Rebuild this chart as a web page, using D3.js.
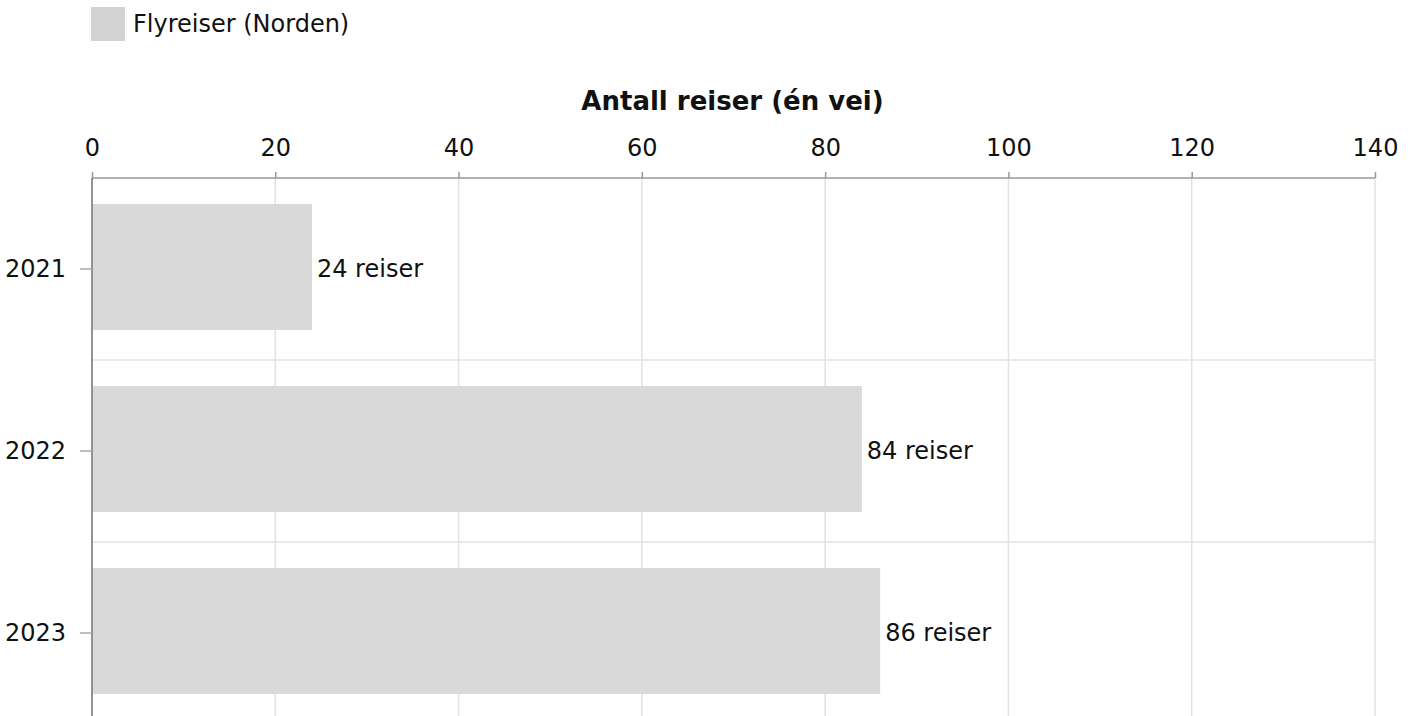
<!DOCTYPE html>
<html>
<head>
<meta charset="utf-8">
<script src="https://cdn.jsdelivr.net/npm/d3@7/dist/d3.min.js"></script>
<style>
html,body{margin:0;padding:0;background:#fff;}
svg{display:block;font-family:Verdana,"DejaVu Sans",sans-serif;}
</style>
</head>
<body>
<svg id="c" width="1416" height="716"></svg>
<script>
const years = ["2021", "2022", "2023"];
const trips = [24, 84, 86];
const xTicks = [0, 20, 40, 60, 80, 100, 120, 140];
const seriesName = "Flyreiser (Norden)";
const axisTitle = "Antall reiser (én vei)";
const valueSuffix = " reiser";

(function () {
const svg = d3.select("#c");
const mLeft = 92, mRight = 1375, mTop = 178, mBottom = 724;
const FS = 24;
const FF = "Verdana, 'DejaVu Sans', sans-serif";

const x = d3.scaleLinear().domain([0, 140]).range([mLeft, mRight]);
const yStep = d3.scaleBand().domain(years).range([mTop, mBottom]).padding(0);
const barOff = 0.143, barFrac = 0.692;

// vertical grid
svg.append("g").selectAll("line").data(xTicks).join("line")
  .attr("x1", d => x(d)).attr("x2", d => x(d))
  .attr("y1", mTop).attr("y2", 716)
  .attr("stroke", "#e2e2e2").attr("stroke-width", 1.5);

// horizontal grid at band boundaries
svg.append("g").selectAll("line").data(years.slice(1)).join("line")
  .attr("x1", mLeft).attr("x2", mRight)
  .attr("y1", d => yStep(d)).attr("y2", d => yStep(d))
  .attr("stroke", "#e2e2e2").attr("stroke-width", 1.5);

// bars
svg.append("g").selectAll("rect").data(years).join("rect")
  .attr("x", x(0)).attr("y", d => yStep(d) + yStep.bandwidth() * barOff)
  .attr("width", (d, i) => x(trips[i]) - x(0))
  .attr("height", yStep.bandwidth() * barFrac)
  .attr("fill", "#d9d9d9");

// value labels
svg.append("g").selectAll("text").data(years).join("text")
  .attr("x", (d, i) => x(trips[i]) + 5)
  .attr("y", d => yStep(d) + yStep.bandwidth() / 2)
  .attr("dy", "0.35em")
  .attr("font-size", FS).attr("fill", "#111")
  .text((d, i) => trips[i] + valueSuffix);

// top x axis
const xAxis = d3.axisTop(x).tickValues(xTicks).tickSize(6).tickPadding(16);
const gx = svg.append("g").attr("transform", `translate(0,${mTop})`).call(xAxis);
gx.select(".domain").attr("stroke", "#999").attr("stroke-width", 1.5).attr("d", `M${mLeft},0H${mRight}`);
gx.selectAll(".tick line").attr("stroke", "#999").attr("stroke-width", 1.5);
gx.selectAll(".tick text").attr("font-size", FS).attr("fill", "#111").attr("font-family", FF);

// left y axis
const yAxis = d3.axisLeft(yStep).tickSize(12).tickPadding(14);
const gy = svg.append("g").attr("transform", `translate(${mLeft},0)`).call(yAxis);
gy.select(".domain").attr("stroke", "#777").attr("stroke-width", 1.5).attr("d", `M0,${mTop}V716`);
gy.selectAll(".tick line").attr("stroke", "#aaa").attr("stroke-width", 1.5);
gy.selectAll(".tick text").attr("font-size", FS).attr("fill", "#111").attr("font-family", FF);

// axis title
svg.append("text").attr("x", (mLeft + mRight) / 2 - 1).attr("y", 110)
  .attr("text-anchor", "middle").attr("font-size", 26).attr("font-weight", "bold").attr("fill", "#111")
  .text(axisTitle);

// legend
svg.append("rect").attr("x", 91).attr("y", 7).attr("width", 34).attr("height", 34).attr("fill", "#d3d3d3");
svg.append("text").attr("x", 133).attr("y", 24).attr("dy", "0.35em")
  .attr("font-size", FS).attr("fill", "#111").text(seriesName);
})();
</script>
</body>
</html>
